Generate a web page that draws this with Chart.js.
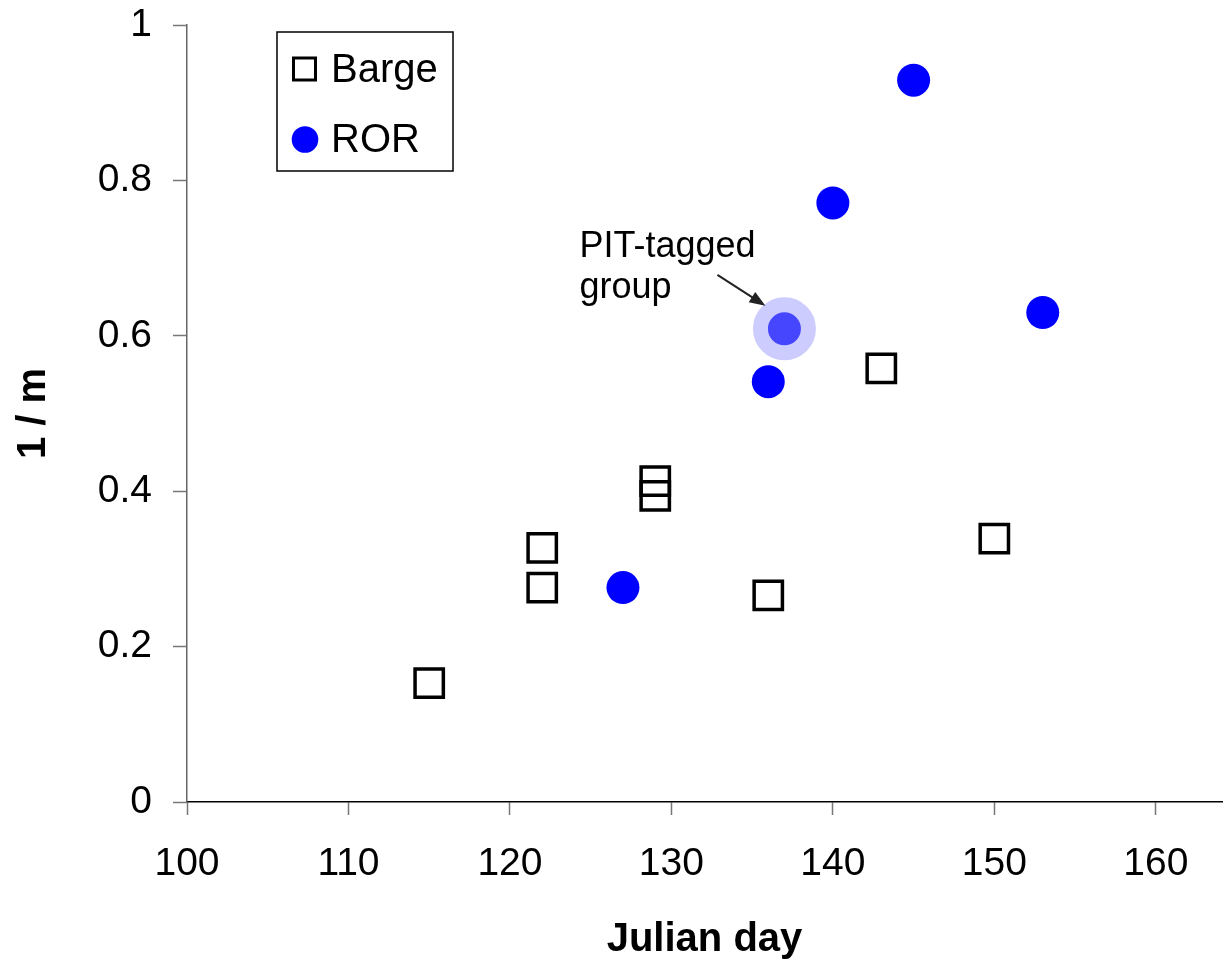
<!DOCTYPE html>
<html>
<head>
<meta charset="utf-8">
<script src="https://cdn.jsdelivr.net/npm/chart.js@4.4.0/dist/chart.umd.min.js"></script>
<style>
  body { margin: 0; background: #fff; }
  #wrap { width: 1224px; height: 964px; }
</style>
</head>
<body>
<div id="wrap"><canvas id="ScatterChart" width="1224" height="964"></canvas></div>
<script>
// values
const bargeDays = [115, 122, 122, 129, 129, 136, 143, 150];
const bargeValues = [0.153, 0.327, 0.276, 0.413, 0.394, 0.266, 0.558, 0.339];
const rorDays = [127, 136, 140, 145, 153];
const rorValues = [0.276, 0.541, 0.771, 0.929, 0.630];
const pitDays = [137];
const pitValues = [0.609];
const xTickValues = [100, 110, 120, 130, 140, 150, 160];
const yTickValues = [0, 0.2, 0.4, 0.6, 0.8, 1];

const FONT = "'Liberation Sans', Arial, sans-serif";

function toPoints(xs, ys) {
    return xs.map((x, i) => ({ x: x, y: ys[i] }));
}

// boxed legend in the top left and the "PIT-tagged group" note
const extrasPlugin = {
    id: 'extras',
    afterDraw(chart) {
        const ctx = chart.ctx;
        ctx.save();

        // legend box
        ctx.strokeStyle = 'black';
        ctx.lineWidth = 1.5;
        ctx.strokeRect(277, 32, 176, 139);

        ctx.fillStyle = 'black';
        ctx.font = '40px ' + FONT;
        ctx.textBaseline = 'alphabetic';
        ctx.textAlign = 'left';

        ctx.lineWidth = 3;
        ctx.strokeStyle = 'black';
        ctx.strokeRect(293.5, 58, 22, 22);
        ctx.fillText(chart.data.datasets[0].label, 331, 82);

        ctx.fillStyle = '#0000ff';
        ctx.beginPath();
        ctx.arc(305, 139.5, 13.3, 0, Math.PI * 2);
        ctx.fill();
        ctx.fillStyle = 'black';
        ctx.fillText(chart.data.datasets[1].label, 331, 152);

        // annotation for the PIT-tagged group
        const px = chart.scales.x.getPixelForValue(pitDays[0]);
        const py = chart.scales.y.getPixelForValue(pitValues[0]);
        ctx.font = '36px ' + FONT;
        ctx.fillText('PIT-tagged', px - 205, py - 72);
        ctx.fillText('group', px - 205, py - 31);

        const x1 = px - 67, y1 = py - 54, x2 = px - 19, y2 = py - 23;
        const ang = Math.atan2(y2 - y1, x2 - x1);
        ctx.strokeStyle = '#222';
        ctx.fillStyle = '#222';
        ctx.lineWidth = 2;
        ctx.beginPath();
        ctx.moveTo(x1, y1);
        ctx.lineTo(x2 - 10 * Math.cos(ang), y2 - 10 * Math.sin(ang));
        ctx.stroke();
        ctx.beginPath();
        ctx.moveTo(x2, y2);
        ctx.lineTo(x2 - 16 * Math.cos(ang) + 6 * Math.sin(ang), y2 - 16 * Math.sin(ang) - 6 * Math.cos(ang));
        ctx.lineTo(x2 - 16 * Math.cos(ang) - 6 * Math.sin(ang), y2 - 16 * Math.sin(ang) + 6 * Math.cos(ang));
        ctx.closePath();
        ctx.fill();

        ctx.restore();
    }
};

let ctx = document.getElementById('ScatterChart').getContext('2d');

new Chart(ctx, {
    type: 'scatter',
    data: {
        datasets: [
            {
                label: 'Barge',
                data: toPoints(bargeDays, bargeValues),
                pointStyle: 'rect',
                pointRadius: 20,
                pointHoverRadius: 20,
                backgroundColor: 'rgba(255,255,255,0)',
                borderColor: 'black',
                borderWidth: 3.5
            },
            {
                label: 'ROR',
                data: toPoints(rorDays, rorValues),
                pointStyle: 'circle',
                pointRadius: 16.5,
                pointHoverRadius: 16.5,
                backgroundColor: '#0000ff',
                borderWidth: 0
            },
            {
                label: 'PIT-tagged group',
                data: toPoints(pitDays, pitValues),
                pointStyle: 'circle',
                pointRadius: 24,
                pointHoverRadius: 24,
                backgroundColor: '#4646ff',
                borderColor: '#ccccff',
                borderWidth: 15
            }
        ]
    },
    options: {
        responsive: false,
        animation: false,
        layout: { autoPadding: false, padding: { top: 25, right: 2, bottom: 0, left: 0 } },
        plugins: {
            legend: { display: false },
            tooltip: { enabled: false },
            title: { display: false }
        },
        scales: {
            x: {
                type: 'linear',
                min: 100,
                max: 164.1,
                afterBuildTicks: (scale) => { scale.ticks = xTickValues.map(v => ({ value: v })); },
                afterFit: (scale) => {
                    scale.height = 162;
                    scale.paddingLeft = 0;
                    scale.paddingRight = 0;
                },
                border: { display: true, color: 'black', width: 1.5 },
                grid: { drawOnChartArea: false, drawTicks: true, tickLength: 13, tickColor: '#777', tickWidth: 1.5 },
                ticks: {
                    color: 'black',
                    font: { family: FONT, size: 39 },
                    padding: 26,
                    maxRotation: 0
                },
                title: {
                    display: true,
                    text: 'Julian day',
                    color: 'black',
                    font: { family: FONT, size: 40, weight: 'bold' },
                    padding: { top: 0, bottom: 0 }
                }
            },
            y: {
                min: 0,
                max: 1,
                afterBuildTicks: (scale) => { scale.ticks = yTickValues.map(v => ({ value: v })); },
                afterFit: (scale) => {
                    scale.width = 187;
                    scale.paddingTop = 0;
                    scale.paddingBottom = 0;
                },
                border: { display: true, color: '#666', width: 1.5 },
                grid: { drawOnChartArea: false, drawTicks: true, tickLength: 14, tickColor: '#777', tickWidth: 1.5 },
                ticks: {
                    color: 'black',
                    font: { family: FONT, size: 39 },
                    padding: 21,
                    callback: (v) => Number(v.toFixed(1)).toString()
                },
                title: {
                    display: true,
                    text: '1 / m',
                    color: 'black',
                    font: { family: FONT, size: 40, weight: 'bold' },
                    padding: { top: 10, bottom: 0 }
                }
            }
        }
    },
    plugins: [extrasPlugin]
});
</script>
</body>
</html>
